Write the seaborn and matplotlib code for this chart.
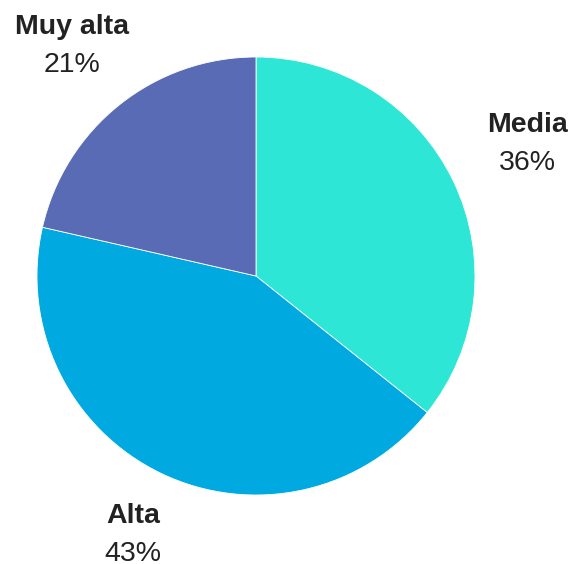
import numpy as np
import matplotlib
matplotlib.use("Agg")
import matplotlib.pyplot as plt
import seaborn as sns

categories = ["Media", "Alta", "Muy alta"]
values = [5, 6, 3]
colors = ["#2ee6d6", "#00a9e0", "#5a6bb5"]

sns.set_theme(style="white")
plt.rcParams['font.family'] = ['Liberation Sans', 'DejaVu Sans']

W, H, dpi = 582, 564, 100
fig = plt.figure(figsize=(W / dpi, H / dpi), dpi=dpi)
ax = fig.add_axes([0, 0, 1, 1])
cx, cy, R = 256, 276, 219

wedges, _ = ax.pie(values, colors=colors, startangle=90, counterclock=False,
                   wedgeprops=dict(edgecolor="white", linewidth=0.6))
ax.set_xlim(-cx / R, (W - cx) / R)
ax.set_ylim(-(H - cy) / R, cy / R)
ax.set_aspect('auto')
ax.axis('off')

dists = [1.3645, 1.3365, 1.3205]
ang_shift = [-1.05, 0.9, 0.95]
half_gap = 19.0 / R
total = sum(values)
for w, cat, v, d, s in zip(wedges, categories, values, dists, ang_shift):
    ang = np.deg2rad((w.theta1 + w.theta2) / 2 + s)
    x, y = d * np.cos(ang), d * np.sin(ang)
    ax.text(x, y + half_gap, cat, ha="center", va="baseline", fontsize=20.5,
            fontweight="bold", color="#222222")
    ax.text(x, y - half_gap, f"{round(v / total * 100)}%", ha="center", va="baseline",
            fontsize=20.5, color="#222222")

fig.savefig("out.png", dpi=dpi)
